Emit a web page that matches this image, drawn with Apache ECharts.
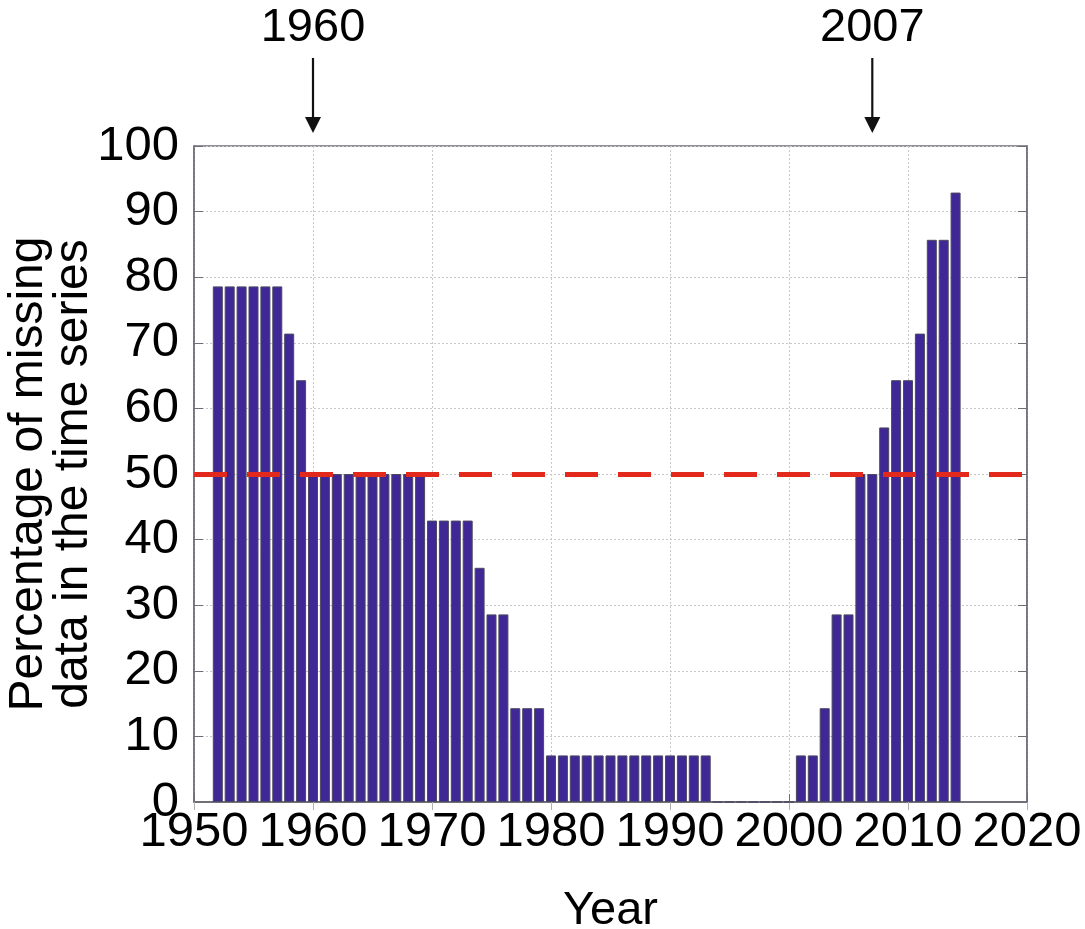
<!DOCTYPE html>
<html>
<head>
<meta charset="utf-8">
<script src="https://cdn.jsdelivr.net/npm/echarts@6/dist/echarts.min.js"></script>
<style>
html,body{margin:0;padding:0;background:#fff;}
#chart{width:1085px;height:929px;}
</style>
</head>
<body>
<div id="chart"></div>
<script>
// Years with bars
const years = [1952,1953,1954,1955,1956,1957,1958,1959,
  1960,1961,1962,1963,1964,1965,1966,1967,1968,1969,
  1970,1971,1972,1973,1974,1975,1976,1977,1978,1979,
  1980,1981,1982,1983,1984,1985,1986,1987,1988,1989,1990,1991,1992,1993,
  1994,1995,1996,1997,1998,1999,2000,
  2001,2002,2003,2004,2005,2006,2007,2008,2009,2010,2011,2012,2013,2014];
// Percentage of missing data
const missing = [78.6,78.6,78.6,78.6,78.6,78.6,71.4,64.3,
  50,50,50,50,50,50,50,50,50,50,
  42.9,42.9,42.9,42.9,35.7,28.6,28.6,14.3,14.3,14.3,
  7.1,7.1,7.1,7.1,7.1,7.1,7.1,7.1,7.1,7.1,7.1,7.1,7.1,7.1,
  0,0,0,0,0,0,0,
  7.1,7.1,14.3,28.6,28.6,50,50,57.1,64.3,64.3,71.4,85.7,85.7,92.9];
const threshold = 50;
const xTicks = {min:1950, max:2020, interval:10};
const yTicks = {min:0, max:100, interval:10};
const annotationYears = [1960, 2007];
const annotationLabels = ['1960', '2007'];
const xTitle = 'Year';
const yTitle = 'Percentage of missing\ndata in the time series';

const FONT = '"Liberation Sans", Arial, sans-serif';
const chart = echarts.init(document.getElementById('chart'), null, {renderer:'canvas'});

const barData = years.map((y,i)=>[y, missing[i]]);

const option = {
  backgroundColor:'#fff',
  animation:false,
  textStyle:{fontFamily:FONT},
  grid:{left:194, right:58, top:146, bottom:127, containLabel:false, outerBoundsMode:'none',
        show:true, borderColor:'#6e6e78', borderWidth:1.5, backgroundColor:'transparent'},
  xAxis:[{
    type:'value', min:xTicks.min, max:xTicks.max, interval:xTicks.interval,
    name:xTitle, nameLocation:'middle', nameGap:86, nameMoveOverlap:false,
    nameTextStyle:{fontSize:47, color:'#000', fontFamily:FONT},
    axisLine:{show:true, onZero:false, lineStyle:{color:'#6e6e78', width:1.5}},
    axisTick:{show:true, inside:true, length:8, lineStyle:{color:'#6e6e78'}},
    axisLabel:{fontSize:49, color:'#000', margin:6, fontFamily:FONT,
               formatter:v=>String(v), showMinLabel:true, showMaxLabel:true, hideOverlap:false},
    splitLine:{show:true, lineStyle:{color:'#c8c8c8', type:[2,2], width:1}}
  },{
    type:'value', position:'top', min:xTicks.min, max:xTicks.max, interval:xTicks.interval,
    axisLine:{show:true, lineStyle:{color:'#6e6e78', width:1.5}},
    axisTick:{show:true, inside:true, length:8, lineStyle:{color:'#b0b0b0'}},
    axisLabel:{show:false}, splitLine:{show:false}
  }],
  yAxis:[{
    type:'value', min:yTicks.min, max:yTicks.max, interval:yTicks.interval,
    name:yTitle, nameLocation:'middle', nameGap:98, nameMoveOverlap:false,
    nameTextStyle:{fontSize:48, color:'#000', lineHeight:45, align:'center', fontFamily:FONT},
    axisLine:{show:true, lineStyle:{color:'#6e6e78', width:1.5}},
    axisTick:{show:true, inside:true, length:9, lineStyle:{color:'#6e6e78'}},
    axisLabel:{fontSize:49, color:'#000', margin:15, fontFamily:FONT, showMinLabel:true, showMaxLabel:true},
    splitLine:{show:true, lineStyle:{color:'#c8c8c8', type:[2,2], width:1}}
  },{
    type:'value', position:'right', min:yTicks.min, max:yTicks.max, interval:yTicks.interval,
    axisLine:{show:true, lineStyle:{color:'#6e6e78', width:1.5}},
    axisTick:{show:true, inside:true, length:9, lineStyle:{color:'#6e6e78'}},
    axisLabel:{show:false}, splitLine:{show:false}
  }],
  series:[{
    type:'bar', xAxisIndex:0, yAxisIndex:0,
    data:barData, barWidth:10,
    itemStyle:{color:'#3f2896', borderColor:'#4b4860', borderWidth:1},
    markLine:{
      silent:true, symbol:'none', label:{show:false},
      lineStyle:{color:'#e2291c', width:5, type:[33,20], opacity:1},
      data:[{yAxis:threshold}]
    },
    z:2
  }]
};
chart.setOption(option);

// Annotation arrows above the plot, positioned from the x axis scale
const graphics = [];
annotationYears.forEach((yr, i)=>{
  const px = chart.convertToPixel({xAxisIndex:0}, yr);
  graphics.push({type:'text', x:px, y:5, style:{text:annotationLabels[i], font:'47px '+FONT, fill:'#000', align:'center', verticalAlign:'top'}});
  graphics.push({type:'line', shape:{x1:px, y1:58, x2:px, y2:120}, style:{stroke:'#111', lineWidth:2.2}});
  graphics.push({type:'polygon', shape:{points:[[px-8,117],[px+8,117],[px,133]]}, style:{fill:'#111'}});
});
chart.setOption({graphic:graphics});
</script>
</body>
</html>
